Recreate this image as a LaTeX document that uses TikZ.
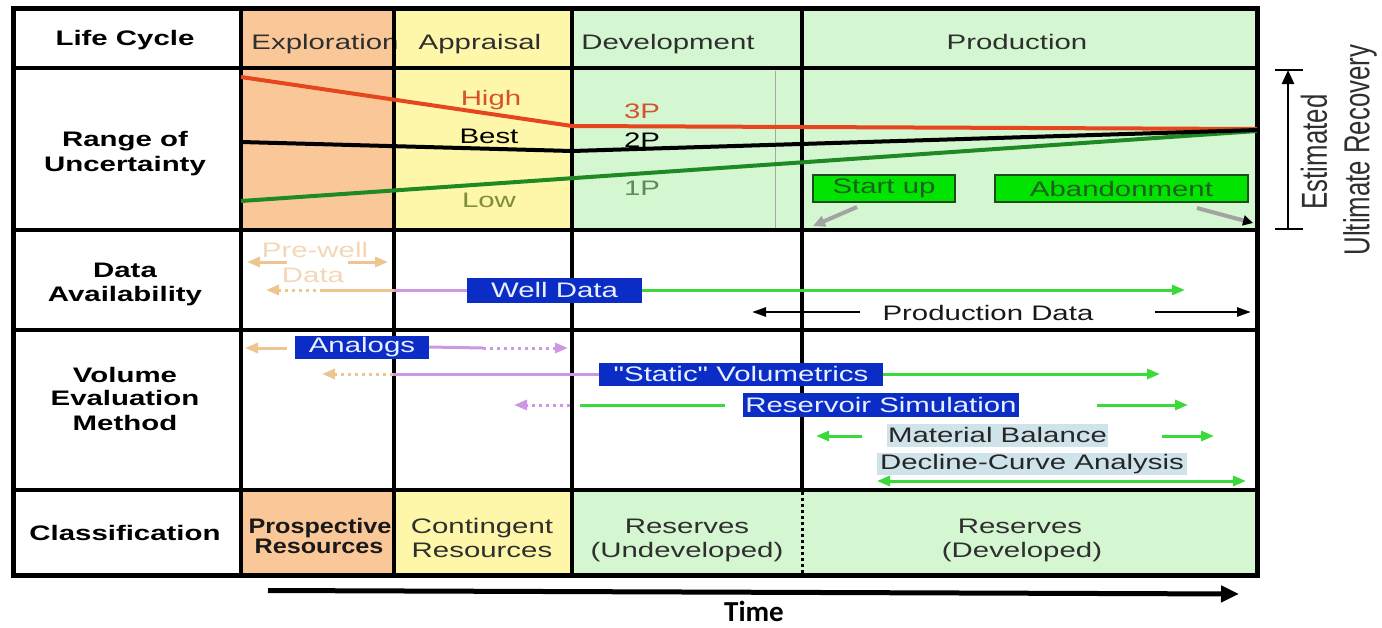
\documentclass[tikz,border=0pt]{standalone}
\usepackage{fontspec}
\setmainfont{Liberation Sans}
\newfontfamily\widesans[FakeStretch=1.4]{Liberation Sans}
\newfontfamily\midsans[FakeStretch=1.2]{Liberation Sans}
\newfontfamily\timesans{Carlito}
\usetikzlibrary{arrows.meta}

\definecolor{exploreFill}{HTML}{FAC898}
\definecolor{appraiseFill}{HTML}{FEF7A9}
\definecolor{devFill}{HTML}{D4F6D1}
\definecolor{headText}{HTML}{2F2F2F}
\definecolor{highRed}{HTML}{E5461E}
\definecolor{highText}{HTML}{D4532E}
\definecolor{lowGreen}{HTML}{1F8A24}
\definecolor{lowText}{HTML}{7E8E36}
\definecolor{onePText}{HTML}{5C8A5C}
\definecolor{methodBlue}{HTML}{0B2DC6}
\definecolor{methodText}{HTML}{E8F0FF}
\definecolor{lilac}{HTML}{CD98E2}
\definecolor{sand}{HTML}{EEC48F}
\definecolor{sandText}{HTML}{F3D8B6}
\definecolor{flowGreen}{HTML}{3BDA3B}
\definecolor{milestoneFill}{HTML}{00E400}
\definecolor{milestoneEdge}{HTML}{1D4D1D}
\definecolor{milestoneText}{HTML}{1F5F1F}
\definecolor{paleBlue}{HTML}{CFE3EA}
\definecolor{pointerGray}{HTML}{A3A3A3}

\begin{document}
\begin{tikzpicture}[x=1pt,y=-1pt,
  rowlabel/.style={font=\widesans\bfseries\fontsize{21}{25}\selectfont,text=black,inner sep=0pt,anchor=base},
  phase/.style={font=\widesans\fontsize{21}{24}\selectfont,text=headText,inner sep=0pt,anchor=base},
  curvelabel/.style={font=\widesans\fontsize{21}{24}\selectfont,inner sep=0pt,anchor=base},
  methodbox/.style={fill=methodBlue,text=methodText,font=\widesans\fontsize{21}{24}\selectfont,inner sep=0pt},
  analysisbox/.style={fill=paleBlue,text=black!85,font=\widesans\fontsize{21}{24}\selectfont,inner sep=0pt},
  milestone/.style={fill=milestoneFill,draw=milestoneEdge,line width=2pt,text=milestoneText,
    font=\widesans\fontsize{21}{24}\selectfont,inner sep=0pt,minimum height=27pt},
  gridline/.style={line width=3.5pt,black},
  flowline/.style={draw=flowGreen,line width=3pt},
  lilacline/.style={draw=lilac,line width=3pt},
  sandline/.style={draw=sand,line width=3pt},
  dotline/.style={dash pattern=on 3pt off 4pt},
  tip/.style={-{Triangle[length=13pt,width=10pt]}},
  bothtips/.style={{Triangle[length=13pt,width=10pt]}-{Triangle[length=13pt,width=10pt]}}
]
\useasboundingbox (0,0) rectangle (1382,627);
\fill[white] (0,0) rectangle (1382,627);

% phase colour bands (life cycle, uncertainty and classification rows)
\fill[exploreFill] (241,8) rectangle (394,230);
\fill[appraiseFill] (394,8) rectangle (572,230);
\fill[devFill] (572,8) rectangle (1257,230);
\fill[exploreFill] (241,490) rectangle (394,575);
\fill[appraiseFill] (394,490) rectangle (572,575);
\fill[devFill] (572,490) rectangle (1257,575);

% row titles
\node[rowlabel] (lLife) at (125,45) {Life Cycle};
\node[rowlabel] (lRange1) at (125,146) {Range of};
\node[rowlabel] (lRange2) at (125,171) {Uncertainty};
\node[rowlabel] (lData1) at (125,277) {Data};
\node[rowlabel] (lData2) at (125,301) {Availability};
\node[rowlabel] (lVol1) at (125,382) {Volume};
\node[rowlabel] (lVol2) at (125,405) {Evaluation};
\node[rowlabel] (lVol3) at (125,430) {Method};
\node[rowlabel] (lClass) at (125,540) {Classification};

% life cycle phases
\node[phase] (pExpl) at (325,49) {Exploration};
\node[phase] (pAppr) at (480,49) {Appraisal};
\node[phase] (pDev) at (668,49) {Development};
\node[phase] (pProd) at (1017,49) {Production};

% classification
\node[phase,font=\midsans\bfseries\fontsize{21}{24}\selectfont,text=black!90] (cPros1) at (320,533) {Prospective};
\node[phase,font=\midsans\bfseries\fontsize{21}{24}\selectfont,text=black!90] (cPros2) at (319,553) {Resources};
\node[phase] (cCont1) at (482,533) {Contingent};
\node[phase] (cCont2) at (482,557) {Resources};
\node[phase] (cRes1) at (687,533) {Reserves};
\node[phase] (cRes2) at (687,557) {(Undeveloped)};
\node[phase] (cDev1) at (1020,533) {Reserves};
\node[phase] (cDev2) at (1022,557) {(Developed)};

% table rules
\draw[gray!70,line width=1pt] (775,71) -- (775,229);
\foreach \yy in {68,230,330,490} \draw[gridline] (13,\yy) -- (1257,\yy);
\foreach \xx in {241,394,572} \draw[gridline] (\xx,8) -- (\xx,575);
\draw[gridline] (802,8) -- (802,490);
\draw[line width=3pt,dash pattern=on 3pt off 3pt] (802,492) -- (802,575);
\draw[line width=5pt] (13,8) rectangle (1257,575);

% range of uncertainty curves
\coordinate (hiA) at (241,77);
\coordinate (hiB) at (572,126);
\coordinate (hiC) at (1257,129);
\coordinate (beA) at (241,142);
\coordinate (beB) at (572,151);
\coordinate (beC) at (1257,130);
\coordinate (loA) at (241,201);
\coordinate (loC) at (1257,131);
\draw[highRed,line width=4pt] (hiA) -- (hiB) -- (hiC);
\draw[lowGreen,line width=4pt] (loA) -- (loC);
\draw[black,line width=4pt] (beA) -- (beB) -- (beC);

\node[curvelabel,text=highText] (tHigh) at (491,105) {High};
\node[curvelabel,text=black] (tBest) at (489,143) {Best};
\node[curvelabel,text=lowText] (tLow) at (489,207) {Low};
\node[curvelabel,text=highText] (t3P) at (642,118) {3P};
\node[curvelabel,text=black] (t2P) at (642,147) {2P};
\node[curvelabel,text=onePText] (t1P) at (642,195) {1P};

% production milestones
\node[milestone,minimum width=142pt] (startup) at (884,188.5) {Start up};
\node[milestone,minimum width=253pt] (abandon) at (1121.5,188.5) {Abandonment};
\coordinate (suTail) at (857,207);
\coordinate (suHead) at (813,226);
\coordinate (abTail) at (1197,208);
\coordinate (abHead) at (1253,223);
\draw[pointerGray,line width=4pt,-{Triangle[length=12pt,width=11pt]}] (suTail) -- (suHead);
\draw[pointerGray,line width=4pt,-{Triangle[length=10pt,width=10pt,color=black]}] (abTail) -- (abHead);

% estimated ultimate recovery
\coordinate (eurLow) at (1288,229);
\coordinate (eurHigh) at (1288,70);
\coordinate (tickTopL) at (1275,70);
\coordinate (tickTopR) at (1303,70);
\coordinate (tickBotL) at (1275,229);
\coordinate (tickBotR) at (1303,229);
\draw[line width=2.5pt,-{Triangle[length=14pt,width=12pt]}] (eurLow) -- (eurHigh);
\draw[line width=2.5pt] (tickTopL) -- (tickTopR);
\draw[line width=2.5pt] (tickBotL) -- (tickBotR);
\node[rotate=90,inner sep=0pt,text=headText,font=\fontsize{25.8}{30}\selectfont] (eur1) at (1314,152) {\scalebox{1}[1.4]{Estimated}};
\node[rotate=90,inner sep=0pt,text=headText,font=\fontsize{25.8}{30}\selectfont] (eur2) at (1360,150) {\scalebox{1}[1.4]{Ultimate Recovery}};

% data availability
\node[curvelabel,text=sandText] (preW1) at (315,257) {Pre-well};
\node[curvelabel,text=sandText] (preW2) at (313,282) {Data};
\coordinate (pwLa) at (287,262);
\coordinate (pwLb) at (247,262);
\coordinate (pwRa) at (348,262);
\coordinate (pwRb) at (388,262);
\draw[sandline,tip] (pwLa) -- (pwLb);
\draw[sandline,tip] (pwRa) -- (pwRb);

\node[methodbox,minimum width=175pt,minimum height=25pt] (welldata) at (554.5,290) {Well Data};
\coordinate (wdCut) at (394,290);
\coordinate (wdSolid) at (323,290);
\coordinate (wdHead) at (266,290);
\coordinate (wdEnd) at (1185,290);
\draw[lilacline] (wdCut) -- (welldata.west);
\draw[sandline] (wdSolid) -- (wdCut);
\draw[sandline,dotline,tip] (wdSolid) -- (wdHead);
\draw[flowline,tip] (welldata.east) -- (wdEnd);

\node[curvelabel,text=black!90] (prodData) at (988,320) {Production Data};
\coordinate (pdLa) at (860,312);
\coordinate (pdLb) at (752,312);
\coordinate (pdRa) at (1155,312);
\coordinate (pdRb) at (1251,312);
\draw[line width=2.5pt,-{Triangle[length=14pt,width=9pt]}] (pdLa) -- (pdLb);
\draw[line width=2.5pt,-{Triangle[length=14pt,width=9pt]}] (pdRa) -- (pdRb);

% volume evaluation methods
\node[methodbox,minimum width=134pt,minimum height=23pt] (analogs) at (362,347) {Analogs};
\coordinate (anSandA) at (287,348);
\coordinate (anSandB) at (245,348);
\coordinate (anDot) at (483,348);
\coordinate (anHead) at (568,348);
\draw[sandline,tip] (anSandA) -- (anSandB);
\draw[lilacline] (analogs.east) -- (anDot);
\draw[lilacline,dotline,tip] (anDot) -- (anHead);

\node[methodbox,minimum width=284pt,minimum height=23pt] (static) at (741,374) {"Static" Volumetrics};
\coordinate (stCut) at (393,374);
\coordinate (stHead) at (322,374);
\coordinate (stEnd) at (1160,374);
\draw[lilacline] (stCut) -- (static.west);
\draw[sandline,dotline,tip] (stCut) -- (stHead);
\draw[flowline,tip] (static.east) -- (stEnd);

\node[methodbox,minimum width=276pt,minimum height=24pt] (ressim) at (881,405) {Reservoir Simulation};
\coordinate (rsGa) at (725,405);
\coordinate (rsGb) at (580,405);
\coordinate (rsDot) at (570,405);
\coordinate (rsHead) at (514,405);
\coordinate (rsRa) at (1097,405);
\coordinate (rsRb) at (1188,405);
\draw[flowline] (rsGa) -- (rsGb);
\draw[lilacline,dotline,tip] (rsDot) -- (rsHead);
\draw[flowline,tip] (rsRa) -- (rsRb);

\node[analysisbox,minimum width=221pt,minimum height=23pt] (matbal) at (997.5,435) {Material Balance};
\coordinate (mbLa) at (862,436);
\coordinate (mbLb) at (816,436);
\coordinate (mbRa) at (1162,436);
\coordinate (mbRb) at (1214,436);
\draw[flowline,tip] (mbLa) -- (mbLb);
\draw[flowline,tip] (mbRa) -- (mbRb);

\node[analysisbox,minimum width=310pt,minimum height=22pt] (decline) at (1032,464) {Decline-Curve Analysis};
\coordinate (dcL) at (877,481);
\coordinate (dcR) at (1246,481);
\draw[flowline,bothtips] (dcL) -- (dcR);

% time axis
\coordinate (timeStart) at (268,590.5);
\coordinate (timeEnd) at (1239,594);
\draw[line width=5pt,-{Triangle[length=18pt,width=16pt]}] (timeStart) -- (timeEnd);
\node[inner sep=0pt,anchor=base,font=\timesans\bfseries\fontsize{29}{33}\selectfont] (timeLbl) at (754,621) {Time};

\end{tikzpicture}
\end{document}
